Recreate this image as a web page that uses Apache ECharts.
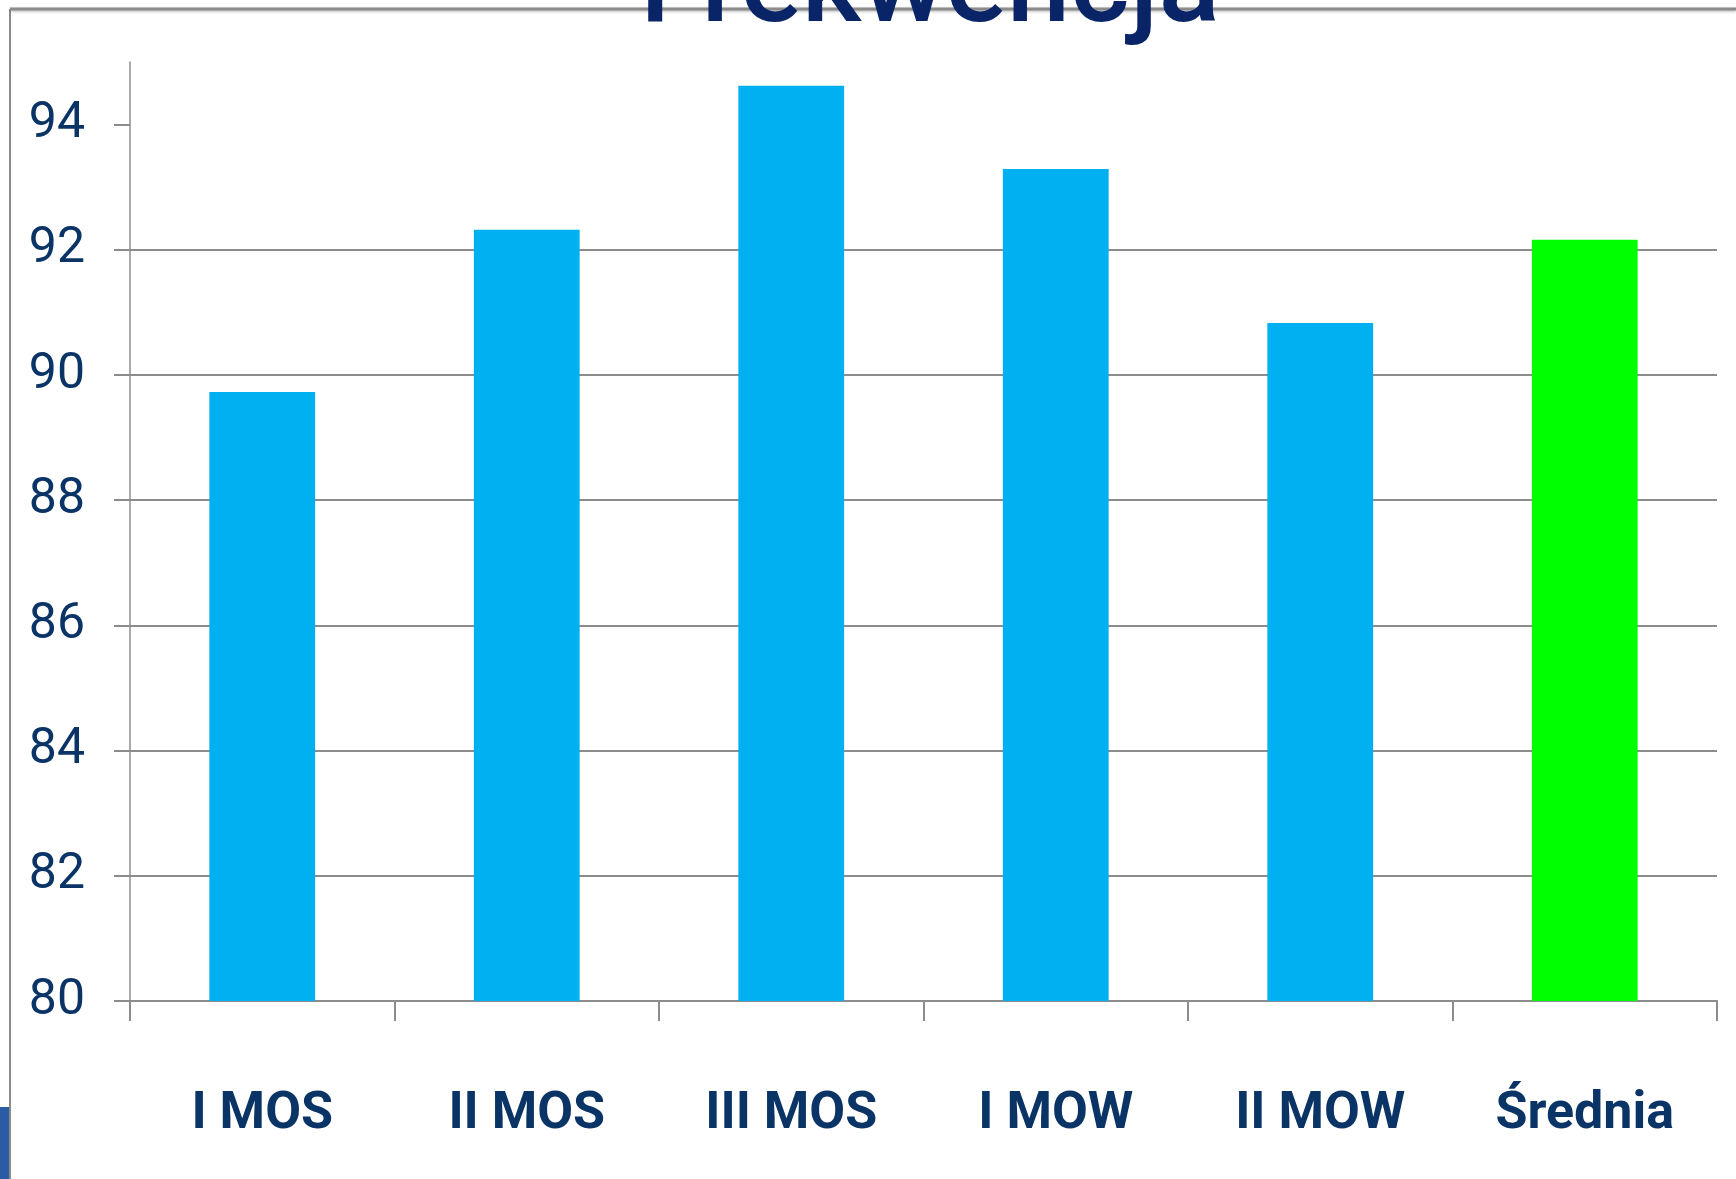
<!DOCTYPE html>
<html>
<head>
<meta charset="utf-8">
<script src="https://cdn.jsdelivr.net/npm/echarts@6/dist/echarts.min.js"></script>
<style>
  html, body { margin: 0; padding: 0; background: #fff; }
  #box { width: 1736px; height: 1179px; }
</style>
</head>
<body>
<div id="box"></div>
<script>
const categories = ['I MOS', 'II MOS', 'III MOS', 'I MOW', 'II MOW', 'Średnia'];
const values = [89.73, 92.32, 94.62, 93.29, 90.83, 92.16];
const barColors = ['#00b0f0', '#00b0f0', '#00b0f0', '#00b0f0', '#00b0f0', '#00ff00'];
const yTicks = [80, 82, 84, 86, 88, 90, 92, 94];

const fontName = 'Roboto, "Liberation Sans", sans-serif';
const navy = '#0b3466';

let myecharts = echarts.init(document.getElementById('box'));
let options = {
  backgroundColor: '#fff',
  animation: false,
  grid: {
    left: 130,
    right: 19,
    top: 62,
    bottom: 178
  },
  xAxis: {
    type: 'category',
    data: categories,
    axisLine: { lineStyle: { color: '#8c8c8c', width: 2 } },
    axisTick: { show: true, length: 20, lineStyle: { color: '#8c8c8c', width: 2 } },
    axisLabel: {
      interval: 0,
      margin: 88,
      color: navy,
      fontFamily: fontName,
      fontWeight: 'bold',
      fontSize: 52
    }
  },
  yAxis: {
    type: 'value',
    min: 80,
    max: 95,
    interval: 2,
    axisLine: { show: true, lineStyle: { color: '#8c8c8c', width: 1.5 } },
    axisTick: { show: true, length: 16, customValues: yTicks, lineStyle: { color: '#8c8c8c', width: 2 } },
    axisLabel: {
      customValues: yTicks,
      margin: 45,
      color: navy,
      fontFamily: fontName,
      fontSize: 50
    },
    splitLine: { show: true, showMaxLine: false, lineStyle: { color: '#8c8c8c', width: 2 } }
  },
  series: [{
    type: 'bar',
    barWidth: '40%',
    data: values.map((v, i) => ({ value: v, itemStyle: { color: barColors[i] } }))
  }],
  graphic: [
    // ramka slajdu
    { type: 'line', shape: { x1: 10, y1: 9, x2: 10, y2: 1179 }, style: { stroke: '#8c8c8c', lineWidth: 2 } },
    { type: 'line', shape: { x1: 10, y1: 9, x2: 1736, y2: 9 }, style: { stroke: '#8c8c8c', lineWidth: 3, shadowBlur: 3, shadowColor: 'rgba(0,0,0,0.3)', shadowOffsetY: 1 } },
    { type: 'rect', shape: { x: 0, y: 1107, width: 9, height: 72 }, style: { fill: '#2a5ca6' } },
    {
      type: 'text',
      x: 930,
      y: -8,
      style: {
        text: 'Frekwencja',
        fill: '#0a2468',
        font: '500 114px ' + fontName,
        textAlign: 'center',
        textVerticalAlign: 'middle',
        shadowBlur: 4,
        shadowColor: 'rgba(0,0,0,0.45)',
        shadowOffsetY: 3
      }
    }
  ]
};
myecharts.setOption(options);
window.onresize = function () {
  myecharts.resize();
};
</script>
</body>
</html>
